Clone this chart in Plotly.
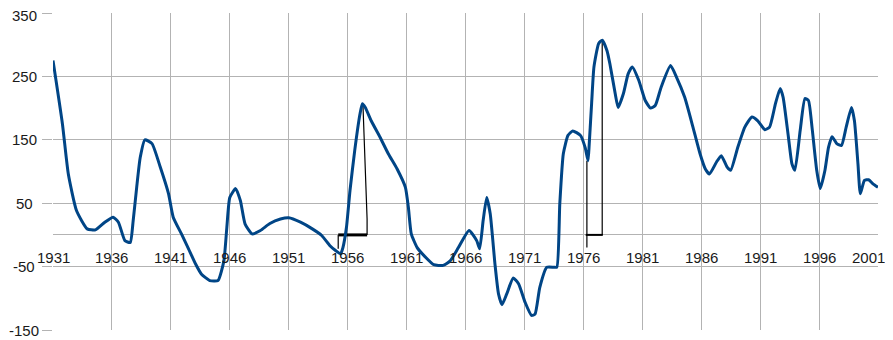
import plotly.graph_objects as go

years = [1931.0, 1931.8, 1932.3, 1933.0, 1933.9, 1934.6, 1935.4, 1936.1, 1936.55, 1937.1,
         1937.55, 1937.8, 1938.1, 1938.4, 1938.8, 1939.4, 1940.1, 1940.8, 1941.2, 1941.9,
         1942.5, 1943.1, 1943.6, 1944.3, 1945.0, 1945.5, 1945.75, 1946.0, 1946.5, 1946.9,
         1947.3, 1947.9, 1948.6, 1949.4, 1950.3, 1951.0, 1952.0, 1953.0, 1953.8, 1954.5,
         1955.0, 1955.4, 1955.6, 1955.9, 1956.2, 1956.6, 1957.05, 1957.25, 1957.5, 1958.0,
         1958.75, 1959.45, 1960.2, 1960.9, 1961.15, 1961.4, 1961.9, 1962.6, 1963.3, 1964.1,
         1964.7, 1965.4, 1966.3, 1966.95, 1967.2, 1967.5, 1967.8, 1968.1, 1968.5, 1968.8,
         1969.1, 1969.5, 1970.05, 1970.5, 1971.05, 1971.6, 1971.9, 1972.3, 1972.9, 1973.5,
         1973.75, 1974.0, 1974.3, 1974.7, 1975.1, 1975.75, 1976.15, 1976.4, 1976.5, 1976.7,
         1976.9, 1977.3, 1977.6, 1978.0, 1978.25, 1978.7, 1978.95, 1979.4, 1979.8, 1980.15,
         1980.7, 1981.25, 1981.7, 1982.1, 1982.6, 1983.4, 1983.9, 1984.6, 1985.3, 1985.9,
         1986.35, 1986.7, 1987.3, 1987.7, 1988.2, 1988.5, 1989.1, 1989.7, 1990.3, 1990.8,
         1991.4, 1991.8, 1992.3, 1992.7, 1992.95, 1993.4, 1993.7, 1993.95, 1994.4, 1994.8,
         1995.1, 1995.4, 1995.8, 1996.1, 1996.5, 1996.8, 1997.1, 1997.5, 1997.9, 1998.3,
         1998.75, 1999.0, 1999.3, 1999.5, 1999.85, 2000.2, 2000.55, 2001.0]

values = [275, 175, 96, 38, 9.5, 8, 20, 28, 20, -9,
          -12, 22, 75, 122, 150, 144, 107, 65, 28, 1.5,
          -22, -46, -62, -72, -72, -41, 12, 59, 73, 54,
          17, 1.6, 7, 18, 25, 27, 20, 9.5, -1, -17,
          -25, -30, -20, 12, 70, 133, 191, 207, 201, 180,
          154, 128, 104, 75, 44, 1.6, -20, -35, -47, -48,
          -41, -20, 7, -9, -22, 23, 59, 33, -46, -93,
          -110, -93, -68, -77, -106, -127, -125, -83, -51, -51,
          -51, 49, 128, 157, 164, 157, 138, 117, 144, 207,
          265, 302, 307, 291, 270, 223, 201, 223, 254, 265,
          244, 212, 200, 204, 233, 267, 249, 217, 170, 128,
          104, 96, 115, 125, 107, 102, 138, 170, 186, 180,
          166, 170, 207, 231, 217, 154, 112, 102, 165, 215,
          212, 170, 102, 73, 102, 138, 155, 144, 141, 170,
          201, 180, 112, 65, 86, 87, 81, 75]

# black marker lines (vertical connectors)
mark_x = [1955.2, 1955.2, None, 1957.65, 1957.65, 1957.3, None, 1976.3, 1976.3, None, 1977.6, 1977.6]
mark_y = [-22, 0, None, 0, 25, 205, None, 117, -20, None, 0, 307]
# black horizontal segments at zero
base1_x = [1955.2, 1957.65]
base1_y = [0, 0]
base2_x = [1976.2, 1977.65]
base2_y = [0, 0]

x_ticks = list(range(1931, 2002, 5))
y_ticks = [-150, -50, 50, 150, 250, 350]

GRID = "#b3b3b3"
FONT = "Liberation Sans, Arial, sans-serif"

fig = go.Figure()
fig.add_trace(go.Scatter(x=mark_x, y=mark_y, mode="lines",
                         line=dict(color="#000000", width=1.2), hoverinfo="skip"))
fig.add_trace(go.Scatter(x=base1_x, y=base1_y, mode="lines",
                         line=dict(color="#000000", width=3), hoverinfo="skip"))
fig.add_trace(go.Scatter(x=base2_x, y=base2_y, mode="lines",
                         line=dict(color="#000000", width=2), hoverinfo="skip"))
fig.add_trace(go.Scatter(x=years, y=values, mode="lines",
                         line=dict(color="#004586", width=3, shape="spline", smoothing=0.5)))

annotations = []
for t in x_ticks:
    last = t == x_ticks[-1]
    annotations.append(dict(x=t, y=0, xref="x", yref="y", text=str(t), showarrow=False,
                            xanchor="right" if last else "center", yanchor="middle",
                            xshift=9 if last else 0, yshift=-23,
                            font=dict(family=FONT, size=15, color="#1a1a1a")))
for t in y_ticks:
    annotations.append(dict(x=0, y=t, xref="paper", yref="y", text=str(t), showarrow=False,
                            xanchor="center", yanchor="middle", xshift=-29,
                            yshift=-2 if t == y_ticks[-1] else 0,
                            font=dict(family=FONT, size=15, color="#1a1a1a")))

# page body has an 8px margin, so the figure is sized/margined to compensate
fig.update_layout(
    width=885, height=332,
    margin=dict(l=45, r=15, t=5, b=10),
    paper_bgcolor="white", plot_bgcolor="white",
    showlegend=False,
    annotations=annotations,
    xaxis=dict(range=[1931, 2001], tickvals=x_ticks, showticklabels=False,
               showgrid=True, gridcolor=GRID, gridwidth=1, zeroline=False,
               showline=False, ticks=""),
    yaxis=dict(range=[-150, 350], tickvals=y_ticks, showticklabels=False,
               showgrid=True, gridcolor=GRID, gridwidth=1,
               zeroline=True, zerolinecolor=GRID, zerolinewidth=1,
               ticks="outside", ticklen=10, tickcolor=GRID, tickwidth=1,
               showline=False),
)

fig.write_html("out.html")
